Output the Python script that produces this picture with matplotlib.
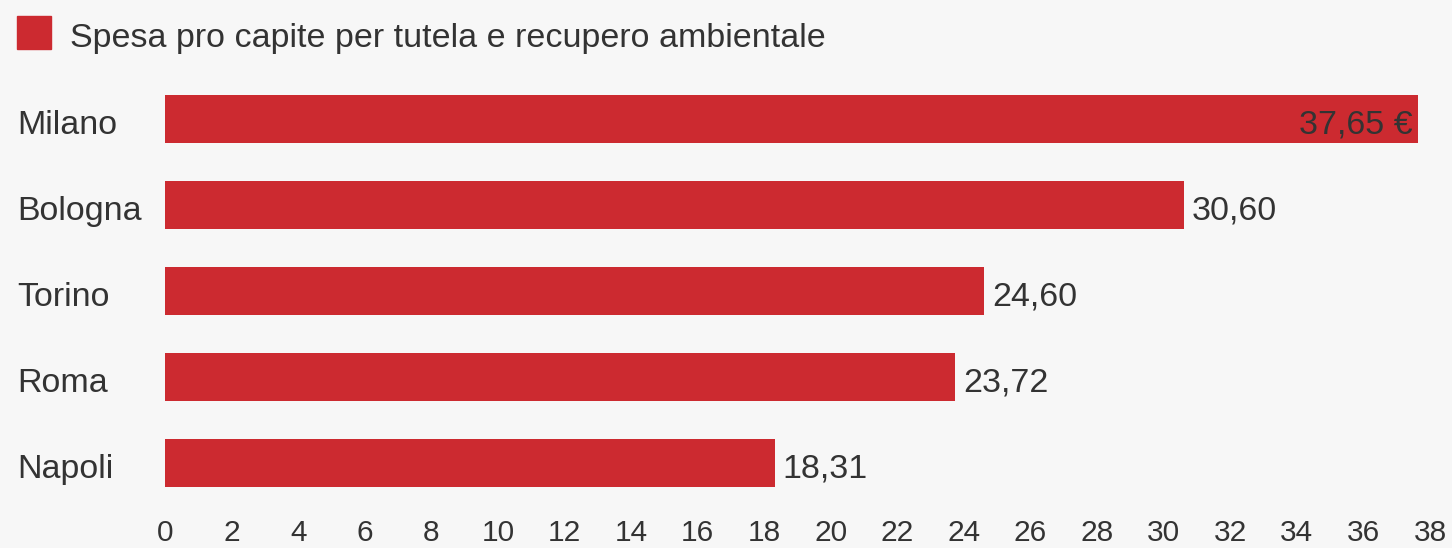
import matplotlib

matplotlib.use("Agg")
import matplotlib.pyplot as plt
from matplotlib.patches import Rectangle
from matplotlib.transforms import blended_transform_factory, offset_copy

cities = ["Milano", "Bologna", "Torino", "Roma", "Napoli"]
spesa = [37.65, 30.60, 24.60, 23.72, 18.31]
x_ticks = list(range(0, 40, 2))
legend_label = "Spesa pro capite per tutela e recupero ambientale"

RED = "#cc2a30"
BG = "#f7f7f7"
TEXT = "#333333"
FS = 24.5

plt.rcParams["font.family"] = ["Liberation Sans", "DejaVu Sans"]

fig = plt.figure(figsize=(14.52, 5.48), dpi=100, facecolor=BG)
ax = fig.add_axes([165 / 1452, 1 - 506 / 548, (1430 - 165) / 1452, 430 / 548])
ax.set_facecolor(BG)

ypos = list(range(len(cities)))
ax.barh(ypos, spesa, height=0.558, color=RED)
ax.set_xlim(0, 38)
ax.set_ylim(len(cities) - 0.5, -0.5)

# baseline sits ~15px below the bar centre
for y, v in zip(ypos, spesa):
    txt = f"{v:.2f}".replace(".", ",")
    if y == 0:
        ax.annotate(txt + " €", (v, y), xytext=(-4.3, -10.5), textcoords="offset points",
                    ha="right", va="baseline", fontsize=FS, color=TEXT)
    else:
        ax.annotate(txt, (v, y), xytext=(6, -10.5), textcoords="offset points",
                    ha="left", va="baseline", fontsize=FS, color=TEXT)

# city names sit at the left edge of the figure
trans = blended_transform_factory(fig.transFigure, ax.transData)
trans = offset_copy(trans, fig=fig, y=-10.5, units="points")
for y, name in zip(ypos, cities):
    ax.text(17 / 1452, y, name, transform=trans, ha="left", va="baseline",
            fontsize=FS, color=TEXT)

ax.set_yticks([])
ax.set_xticks(x_ticks)
ax.tick_params(axis="x", length=0, pad=9.5, labelsize=21.5, labelcolor=TEXT)
for s in ax.spines.values():
    s.set_visible(False)

# legend swatch and label
fig.add_artist(Rectangle((17 / 1452, 1 - 49 / 548), 34 / 1452, 33 / 548,
                         transform=fig.transFigure, color=RED))
fig.text(70 / 1452, 1 - 47 / 548, legend_label, ha="left", va="baseline",
         fontsize=FS, color=TEXT)

fig.savefig("out.png", dpi=100, facecolor=BG)
